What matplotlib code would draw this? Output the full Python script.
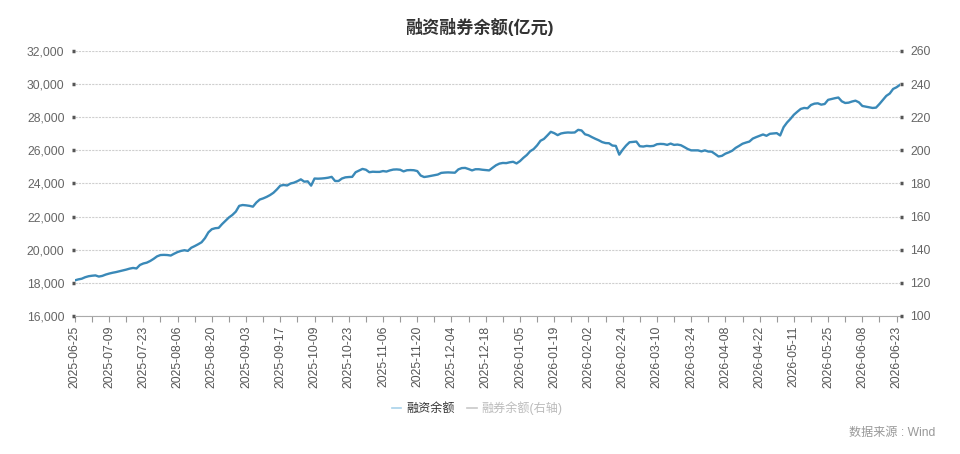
import numpy as np
import matplotlib.pyplot as plt
from matplotlib.lines import Line2D

plt.rcParams['font.family'] = ['Liberation Sans', 'Noto Sans CJK SC', 'DejaVu Sans']

# tick labels on the category axis (one every 10 trading days)
tick_dates = ['2025-06-25', '2025-07-09', '2025-07-23', '2025-08-06', '2025-08-20',
              '2025-09-03', '2025-09-17', '2025-10-09', '2025-10-23', '2025-11-06',
              '2025-11-20', '2025-12-04', '2025-12-18', '2026-01-05', '2026-01-19',
              '2026-02-02', '2026-02-24', '2026-03-10', '2026-03-24', '2026-04-08',
              '2026-04-22', '2026-05-11', '2026-05-25', '2026-06-08', '2026-06-23']

# 融资余额 (亿元), one value per trading day
margin_fin = [
    18150, 18210, 18250, 18340, 18400, 18430, 18450, 18380, 18420, 18500,
    18560, 18610, 18650, 18700, 18750, 18800, 18860, 18900, 18870, 19080,
    19170, 19220, 19320, 19450, 19600, 19680, 19690, 19680, 19650, 19760,
    19860, 19930, 19970, 19930, 20120, 20220, 20330, 20450, 20700, 21050,
    21240, 21300, 21320, 21550, 21750, 21950, 22100, 22300, 22650, 22700,
    22680, 22650, 22600, 22850, 23030, 23100, 23190, 23300, 23440, 23640,
    23870, 23910, 23880, 24000, 24050, 24140, 24250, 24110, 24130, 23870,
    24300, 24290, 24300, 24320, 24350, 24400, 24150, 24150, 24300, 24370,
    24390, 24400, 24680, 24780, 24880, 24830, 24680, 24710, 24700, 24700,
    24750, 24720, 24790, 24840, 24850, 24830, 24730, 24800, 24810, 24800,
    24750, 24480, 24390, 24420, 24460, 24500, 24540, 24640, 24660, 24670,
    24660, 24650, 24850, 24930, 24940, 24870, 24790, 24860, 24860, 24830,
    24810, 24790, 24950, 25100, 25200, 25240, 25230, 25280, 25310, 25210,
    25350, 25550, 25720, 25950, 26080, 26300, 26580, 26690, 26900, 27120,
    27040, 26920, 27020, 27060, 27080, 27070, 27080, 27240, 27200, 26970,
    26910, 26800, 26700, 26610, 26500, 26440, 26430, 26290, 26270, 25740,
    26040, 26290, 26490, 26510, 26530, 26250, 26230, 26270, 26250, 26270,
    26370, 26390, 26380, 26330, 26410, 26330, 26350, 26310, 26200, 26080,
    26000, 26000, 26000, 25940, 26000, 25930, 25920, 25780, 25630, 25670,
    25800, 25880, 25980, 26150, 26270, 26400, 26470, 26530, 26710, 26800,
    26880, 26960, 26880, 27000, 27020, 27040, 26900, 27400, 27680, 27900,
    28150, 28330, 28500, 28560, 28540, 28740, 28820, 28840, 28760, 28800,
    29050, 29100, 29150, 29190, 28960, 28860, 28880, 28950, 29000, 28900,
    28680, 28640, 28600, 28560, 28580, 28800, 29050, 29290, 29430, 29710,
    29810, 29960,
]

left_ticks = [16000, 18000, 20000, 22000, 24000, 26000, 28000, 30000, 32000]
right_ticks = [100, 120, 140, 160, 180, 200, 220, 240, 260]

x = np.arange(len(margin_fin))

fig = plt.figure(figsize=(9.6, 4.54), dpi=100)
ax = fig.add_axes([0.078, 0.304, 0.8595, 0.5837])
ax.plot(x, margin_fin, color='#3a89b8', lw=1.7)

ax.set_xlim(0, len(margin_fin) - 1)
ax.set_ylim(16000, 32000)
ax.set_yticks(left_ticks)
ax.set_yticklabels([f'{v:,}' for v in left_ticks])
ax.grid(axis='y', color='#cfcfcf', lw=0.8, linestyle=(0, (2, 1)))
ax.set_axisbelow(True)

ax.set_xticks(np.arange(0, len(margin_fin), 10))
ax.set_xticklabels(tick_dates, rotation=90)
ax.set_xticks(np.arange(5, len(margin_fin), 10), minor=True)
ax.tick_params(axis='x', which='both', length=4, width=0.8, color='#999999',
               labelsize=8.7, labelcolor='#555555', pad=3)
ax.tick_params(axis='y', length=2.5, width=2.5, color='#555555', pad=5,
               labelsize=8.7, labelcolor='#666666')

for s in ['top', 'left', 'right']:
    ax.spines[s].set_visible(False)
ax.spines['bottom'].set_color('#aaaaaa')
ax.spines['bottom'].set_linewidth(0.8)

ax2 = ax.twinx()
ax2.set_ylim(100, 260)
ax2.set_yticks(right_ticks)
ax2.tick_params(axis='y', length=2.5, width=2.5, color='#555555', pad=5,
                labelsize=8.7, labelcolor='#666666')
for s in ['top', 'left', 'right', 'bottom']:
    ax2.spines[s].set_visible(False)

fig.text(0.5, 0.94, '融资融券余额(亿元)', ha='center', va='center',
         fontsize=12.3, fontweight='bold', color='#333333')

handles = [Line2D([], [], color='#a8d2ea', lw=1.2),
           Line2D([], [], color='#c8c8c8', lw=1.2)]
leg = fig.legend(handles, ['融资余额', '融券余额(右轴)'], loc='center',
                 bbox_to_anchor=(0.497, 0.101), ncol=2, frameon=False,
                 fontsize=8.7, handlelength=0.8, handletextpad=0.4,
                 columnspacing=1.0)
leg.get_texts()[0].set_color('#333333')
leg.get_texts()[1].set_color('#bbbbbb')

fig.text(0.974, 0.046, '数据来源 : Wind', ha='right', va='center',
         fontsize=8.7, color='#999999')

fig.savefig('out.png', dpi=100)
